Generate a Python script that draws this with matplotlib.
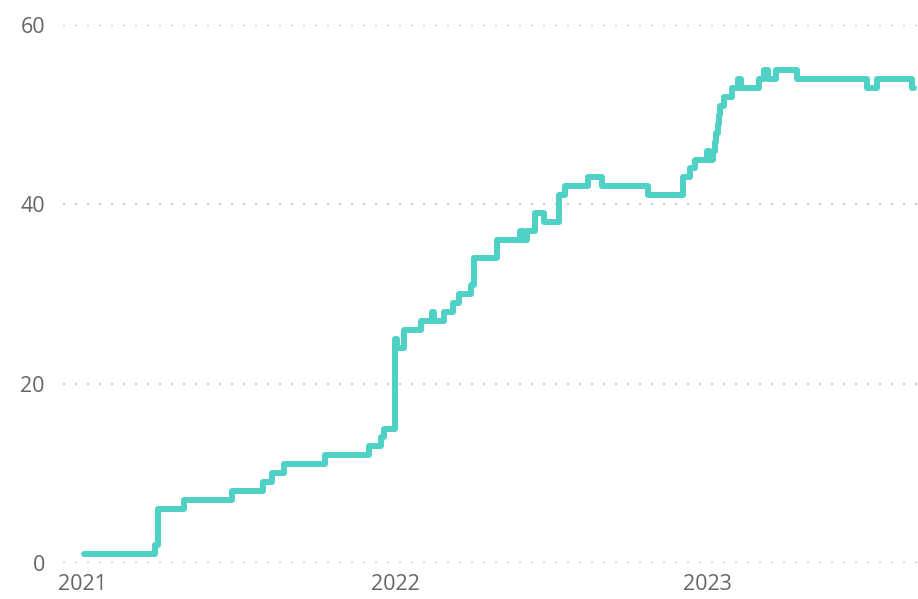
import pandas as pd
import matplotlib
matplotlib.use('Agg')
import matplotlib.pyplot as plt

# step changes: date of change -> value from that date on
dates = [
    '2021-01-02', '2021-03-26', '2021-03-30', '2021-04-29', '2021-06-24',
    '2021-07-31', '2021-08-10', '2021-08-24', '2021-10-11', '2021-12-02',
    '2021-12-16', '2021-12-19', '2022-01-01', '2022-01-03', '2022-01-12',
    '2022-01-31', '2022-02-13', '2022-02-16', '2022-02-27', '2022-03-10',
    '2022-03-17', '2022-03-31', '2022-04-03', '2022-04-30', '2022-05-27',
    '2022-05-30', '2022-06-04', '2022-06-13', '2022-06-24', '2022-07-12',
    '2022-07-18', '2022-08-14', '2022-08-31', '2022-10-23', '2022-12-04',
    '2022-12-12', '2022-12-18', '2023-01-01', '2023-01-03', '2023-01-08',
    '2023-01-10', '2023-01-11', '2023-01-13', '2023-01-14', '2023-01-16',
    '2023-01-20', '2023-01-30', '2023-02-06', '2023-02-09', '2023-03-02',
    '2023-03-08', '2023-03-13', '2023-03-22', '2023-04-16', '2023-07-06',
    '2023-07-18', '2023-08-28', '2023-08-30',
]
values = [
    1, 2, 6, 7, 8,
    9, 10, 11, 12, 13,
    14, 15, 25, 24, 26,
    27, 28, 27, 28, 29,
    30, 31, 34, 36, 37,
    36, 37, 39, 38, 41,
    42, 43, 42, 41, 43,
    44, 45, 46, 45, 46,
    47, 48, 49, 50, 51,
    52, 53, 54, 53, 54,
    55, 54, 55, 54, 53,
    54, 53, 53,
]
year_ticks = ['2021-01-01', '2022-01-01', '2023-01-01']
year_labels = ['2021', '2022', '2023']
y_ticks = [0, 20, 40, 60]

plt.rcParams['font.family'] = ['Open Sans', 'DejaVu Sans']

fig = plt.figure(figsize=(9.18, 5.99), dpi=100)
ax = fig.add_axes([63 / 918, 1 - 563 / 599, 855 / 918, 538 / 599])

x = pd.to_datetime(dates)
ax.plot(x, values, drawstyle='steps-post', color='#4FD1C5', linewidth=4.3,
        solid_capstyle='round', solid_joinstyle='round', zorder=3)

ax.set_ylim(0, 60)
ax.set_xlim(pd.Timestamp('2020-12-09'), pd.Timestamp('2023-09-04'))
ax.set_yticks(y_ticks)
ax.set_xticks(pd.to_datetime(year_ticks))
ax.set_xticklabels(year_labels)

for s in ax.spines.values():
    s.set_visible(False)
ax.tick_params(axis='both', length=0, labelsize=15.5, labelcolor='#666666')
ax.tick_params(axis='y', pad=13)
ax.tick_params(axis='x', pad=8)
ax.grid(axis='y', color='#C8C8C8', linewidth=1.5, linestyle=(0, (1, 4.76)))
ax.set_axisbelow(True)

fig.savefig('out.png', dpi=100)
